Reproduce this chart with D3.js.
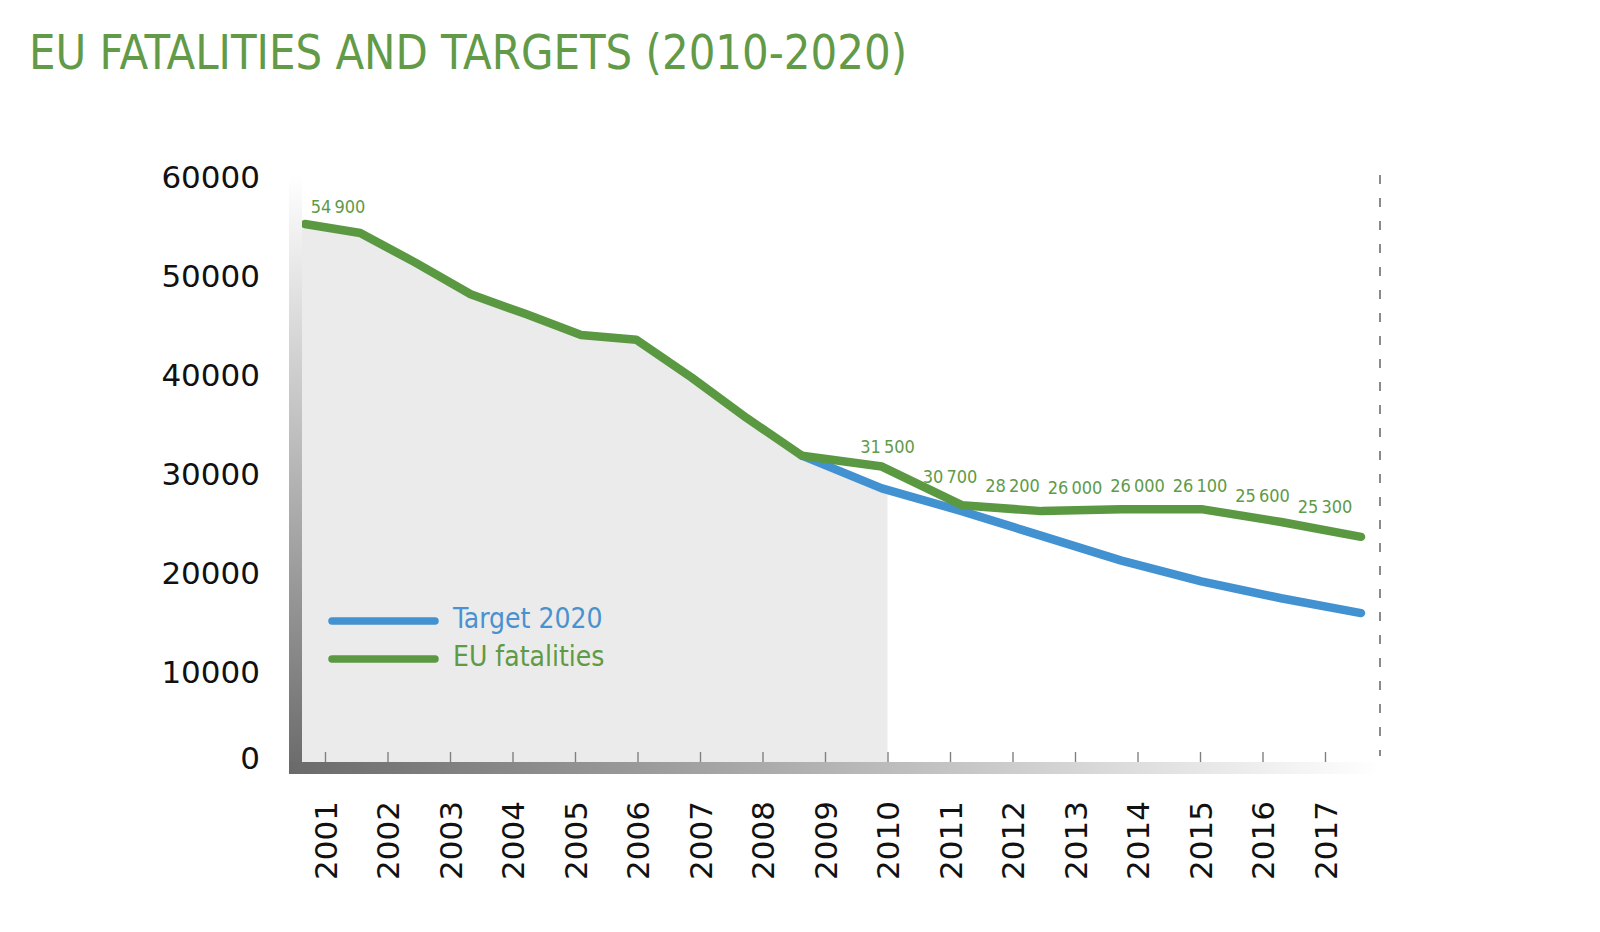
<!DOCTYPE html>
<html>
<head>
<meta charset="utf-8">
<script src="https://cdn.jsdelivr.net/npm/d3@7"></script>
<style>
  html, body { margin: 0; padding: 0; background: #ffffff; }
  svg { display: block; }
</style>
</head>
<body>
<svg id="chart" width="1600" height="932"></svg>
<script>
// ---------------- data ----------------
const years = [2001, 2002, 2003, 2004, 2005, 2006, 2007, 2008, 2009, 2010, 2011, 2012, 2013, 2014, 2015, 2016, 2017];
const fatalities = [55200, 54300, 51300, 48100, 46100, 44000, 43500, 39700, 35600, 31800, 30700, 26800, 26200, 26400, 26400, 25100, 23600];
const targetYears = [2010, 2011, 2012, 2013, 2014, 2015, 2016, 2017];
const target = [31800, 28500, 26200, 23700, 21200, 19100, 17400, 15900];
const labelYears = [2001, 2010, 2011, 2012, 2013, 2014, 2015, 2016, 2017];
const labelTexts = ["54\u2009900", "31\u2009500", "30\u2009700", "28\u2009200", "26\u2009000", "26\u2009000", "26\u2009100", "25\u2009600", "25\u2009300"];
const yTicks = [0, 10000, 20000, 30000, 40000, 50000, 60000];
const yTickLabels = ["0", "10000", "20000", "30000", "40000", "50000", "60000"];
const seriesNames = ["Target 2020", "EU fatalities"];
const title = "EU FATALITIES AND TARGETS (2010-2020)";

// ---------------- layout ----------------
const GREEN = "#5a9941", BLUE = "#4292d2", LABEL_GREEN = "#5f9a48", TITLE_GREEN = "#629a48";
const plotLeft = 302, plotRight = 1380, plotTop = 175, plotBottom = 762;
const svg = d3.select("#chart");

const y = d3.scaleLinear().domain([0, 60000]).range([770.5, 176.5]);
const xTick = d3.scalePoint().domain(years).range([325, 1325]);
const xLine = d3.scaleLinear().domain([2001, 2010, 2017]).range([305, 802, 1361]);

const defs = svg.append("defs");
const gv = defs.append("linearGradient").attr("id", "gv").attr("x1", 0).attr("y1", 0).attr("x2", 0).attr("y2", 1);
gv.append("stop").attr("offset", "0%").attr("stop-color", "#ffffff");
gv.append("stop").attr("offset", "100%").attr("stop-color", "#6a6a6a");
const gh = defs.append("linearGradient").attr("id", "gh").attr("x1", 0).attr("y1", 0).attr("x2", 1).attr("y2", 0);
gh.append("stop").attr("offset", "0%").attr("stop-color", "#6a6a6a");
gh.append("stop").attr("offset", "100%").attr("stop-color", "#ffffff");
defs.append("clipPath").attr("id", "clipGray").append("rect")
  .attr("x", plotLeft).attr("y", 0).attr("width", xTick(2010) - plotLeft).attr("height", plotBottom);

// title
svg.append("text").attr("x", 29).attr("y", 69)
  .attr("font-family", "DejaVu Sans Condensed").attr("font-size", 48)
  .attr("fill", TITLE_GREEN).attr("textLength", 878).attr("lengthAdjust", "spacingAndGlyphs")
  .text(title);

// gray area under lines (up to 2010)
const areaPts = [[years[0], fatalities[0]]].concat(
  years.filter(yr => yr <= 2010).map((yr, i) => [yr, fatalities[i]]),
  targetYears.slice(1).map((yr, i) => [yr, target[i + 1]]));
svg.append("path").datum(areaPts)
  .attr("clip-path", "url(#clipGray)")
  .attr("fill", "#ebebeb")
  .attr("d", d3.area().x((d, i) => i === 0 ? plotLeft : xLine(d[0])).y0(plotBottom).y1(d => y(d[1])));

// dashed right border
svg.append("line").attr("x1", plotRight).attr("x2", plotRight).attr("y1", plotTop).attr("y2", 756)
  .attr("stroke", "#8a8a8a").attr("stroke-width", 2).attr("stroke-dasharray", "9,14");

// lines
const lineGen = d3.line().x(d => xLine(d[0])).y(d => y(d[1]));
svg.append("path").datum(targetYears.map((yr, i) => [yr, target[i]]))
  .attr("fill", "none").attr("stroke", BLUE).attr("stroke-width", 8.5)
  .attr("stroke-linecap", "round").attr("stroke-linejoin", "round").attr("d", lineGen);
svg.append("path").datum(years.map((yr, i) => [yr, fatalities[i]]))
  .attr("fill", "none").attr("stroke", GREEN).attr("stroke-width", 8.5)
  .attr("stroke-linecap", "round").attr("stroke-linejoin", "round").attr("d", lineGen);

// axis bars
svg.append("rect").attr("x", 289).attr("y", plotTop).attr("width", 13).attr("height", 774 - plotTop).attr("fill", "url(#gv)");
svg.append("rect").attr("x", 289).attr("y", plotBottom).attr("width", plotRight - 289).attr("height", 12).attr("fill", "url(#gh)");

// value labels
function valueAt(px) {
  const fy = xLine.invert(px);
  const i = Math.max(0, Math.min(years.length - 2, Math.floor(fy - years[0])));
  const t = fy - years[i];
  return fatalities[i] * (1 - t) + fatalities[i + 1] * t;
}
const labelX = d => Math.max(xTick(d), xLine(years[0]) + 33);
svg.append("g").selectAll("text").data(labelYears).join("text")
  .attr("x", labelX)
  .attr("y", d => y(valueAt(labelX(d))) - 23)
  .attr("dy", "0.35em")
  .attr("text-anchor", "middle")
  .attr("font-family", "DejaVu Sans Condensed").attr("font-size", 18)
  .attr("fill", LABEL_GREEN)
  .text((d, i) => labelTexts[i]);

// x axis
const xAxis = svg.append("g").attr("transform", `translate(0,${plotBottom})`)
  .call(d3.axisBottom(xTick).tickSize(-10).tickFormat(d => String(d)));
xAxis.select(".domain").remove();
xAxis.selectAll(".tick line").attr("stroke", "#808080").attr("stroke-width", 1.4);
xAxis.selectAll(".tick text")
  .attr("transform", "rotate(-90)")
  .attr("x", -39).attr("y", 0).attr("dy", "0.36em")
  .style("text-anchor", "end")
  .attr("font-family", "DejaVu Sans").attr("font-size", 31).attr("fill", "#111");

// y axis
const yAxis = svg.append("g").attr("transform", "translate(260,0)")
  .call(d3.axisLeft(y).tickValues(yTicks).tickSize(0).tickPadding(0)
    .tickFormat((d, i) => yTickLabels[i]));
yAxis.select(".domain").remove();
yAxis.selectAll(".tick text")
  .attr("font-family", "DejaVu Sans").attr("font-size", 31).attr("fill", "#111")
  .attr("dy", d => d === 0 ? "-0.08em" : "0.35em");

// legend
const legend = svg.append("g");
const legendColors = [BLUE, GREEN];
seriesNames.forEach((name, i) => {
  const ly = 621 + i * 38;
  legend.append("line").attr("x1", 332).attr("x2", 435).attr("y1", ly).attr("y2", ly)
    .attr("stroke", legendColors[i]).attr("stroke-width", 7.5).attr("stroke-linecap", "round");
  legend.append("text").attr("x", 453).attr("y", ly - 3).attr("dy", "0.35em")
    .attr("font-family", "DejaVu Sans Condensed").attr("font-size", 28)
    .attr("fill", i === 0 ? "#4a91d0" : "#5f9a46").text(name);
});
</script>
</body>
</html>
